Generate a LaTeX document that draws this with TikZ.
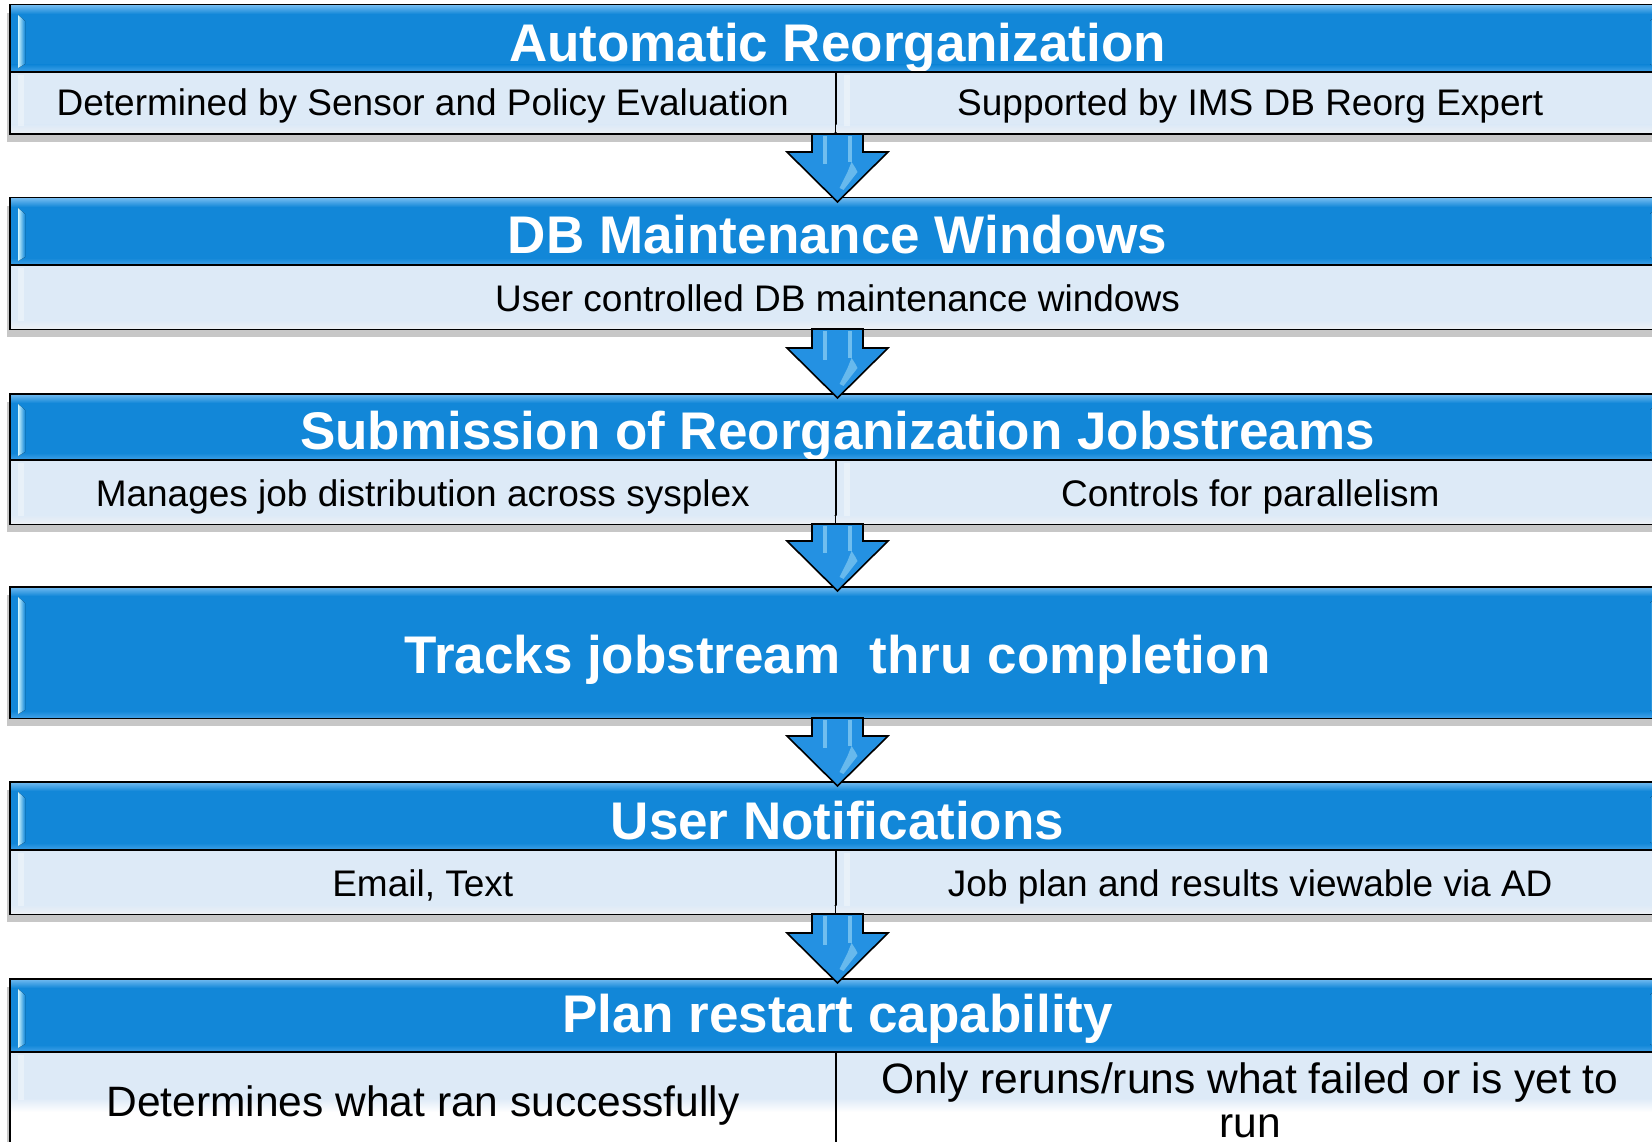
\documentclass[tikz,border=0pt]{standalone}
\usepackage{fontspec}
\setmainfont{Liberation Sans}
\usetikzlibrary{calc}

\definecolor{hdrblue}{RGB}{18,135,216}
\definecolor{hdrlight}{RGB}{105,182,238}
\definecolor{hdrlow}{RGB}{58,158,230}
\definecolor{rowblue}{RGB}{221,234,247}
\definecolor{rowlow}{RGB}{236,240,245}
\definecolor{arrowblue}{RGB}{36,145,226}
\definecolor{glint}{RGB}{205,245,255}

\tikzset{
  frame/.style={inner sep=0pt, outer sep=0pt, anchor=north west},
  header/.style={frame, fill=hdrblue, draw=black, line width=2pt},
  rowcellbox/.style={frame, fill=rowblue, draw=black, line width=2pt},
  shadowfill/.style={fill=black!40, opacity=0.55},
  title/.style={font=\fontsize{53}{60}\selectfont\bfseries, text=white, anchor=base, inner sep=0pt},
  caption/.style={font=\fontsize{37}{44}\selectfont, text=black, anchor=base, inner sep=0pt},
  bigcaption/.style={font=\fontsize{42.5}{44}\selectfont, text=black, anchor=base, inner sep=0pt},
  flowarrow/.style={draw=black, line width=1.6pt, fill=arrowblue, line join=miter},
}

% drop shadow and invisible frame spanning one stage
\newcommand\stagebase[3]{%
  \fill[shadowfill] (7,#2+8) rectangle (1662,#3+8);
  \pgfmathsetmacro\stageh{#3-#2}
  \node[frame, minimum width=1655pt, minimum height=\stageh pt] (#1) at (10,#2) {};
}

% blue title bar: name, top, bottom, baseline offset, title
\newcommand\headerbar[5]{%
  \pgfmathsetmacro\barh{#3-#2}
  \node[header, minimum width=1655pt, minimum height=\barh pt] (#1) at (10,#2) {};
  \fill[top color=hdrlight, bottom color=hdrblue] (11,#2+1) rectangle (1664,#2+9);
  \fill[top color=hdrblue, bottom color=hdrlow] (11,#3-7) rectangle (1664,#3-1);
  \fill[left color=glint, right color=hdrblue] (18,#2+10) -- (25,#2+16) -- (25,#3-8) -- (18,#3-4) -- cycle;
  \fill[left color=hdrblue, right color=glint] (1650,#2+16) -- (1657,#2+10) -- (1657,#3-4) -- (1650,#3-8) -- cycle;
  \node[title] (#1t) at ([yshift=#4pt]#1.south) {#5};
}

% light text cell: name, left x, width, top, bottom, baseline offset, text
\newcommand\rowcell[7]{%
  \pgfmathsetmacro\cellh{#5-#4}
  \node[rowcellbox, minimum width=#3pt, minimum height=\cellh pt] (#1) at (#2,#4) {};
  \fill[top color=rowblue, bottom color=rowlow] (#2+1,#5-9) rectangle (#2+#3-1,#5-1);
  \fill[white, opacity=0.35] (#2+8,#4+3) rectangle (#2+14,#5-8);
  \node[caption] (#1t) at ([yshift=#6pt]#1.south) {#7};
}

% block arrow between two stages
\newcommand\blockarrow[3]{%
  \coordinate (#1top) at (#2.south);
  \coordinate (#1tip) at ([yshift=-4pt]#3.north);
  \draw[flowarrow] ($(#1top)+(-25.5pt,0)$) -- ($(#1tip)+(-25.5pt,50pt)$) -- ($(#1tip)+(-50.5pt,50pt)$)
    -- (#1tip) -- ($(#1tip)+(50.5pt,50pt)$) -- ($(#1tip)+(25.5pt,50pt)$) -- ($(#1top)+(25.5pt,0)$) -- cycle;
  \fill[glint, opacity=0.45] ($(#1top)+(-15pt,-2pt)$) rectangle ($(#1tip)+(-11pt,38pt)$);
  \fill[glint, opacity=0.45] ($(#1top)+(10pt,-2pt)$) rectangle ($(#1tip)+(14pt,40pt)$);
  \fill[glint, opacity=0.4] ($(#1tip)+(14pt,40pt)$) .. controls ($(#1tip)+(18pt,34pt)$) .. ($(#1tip)+(20pt,30pt)$)
    -- ($(#1tip)+(6pt,12pt)$) -- ($(#1tip)+(2pt,14pt)$) -- ($(#1tip)+(10pt,30pt)$) -- cycle;
}

\begin{document}
\begin{tikzpicture}[x=1pt, y=-1pt]
  \useasboundingbox (0,0) rectangle (1652,1142);
  \fill[white] (0,0) rectangle (1652,1142);
  \clip (0,0) rectangle (1652,1142);

  % stage 1
  \stagebase{s1}{5}{134}
  \headerbar{s1h}{5}{72}{10}{Automatic Reorganization}
  \rowcell{s1a}{10}{825.5}{72}{134}{18}{Determined by Sensor and Policy Evaluation}
  \rowcell{s1b}{835.5}{829.5}{72}{134}{18}{Supported by IMS DB Reorg Expert}

  % stage 2
  \stagebase{s2}{198}{329}
  \headerbar{s2h}{198}{265}{11}{DB Maintenance Windows}
  \rowcell{s2a}{10}{1655}{265}{329}{18}{User controlled DB maintenance windows}

  % stage 3
  \stagebase{s3}{394}{524}
  \headerbar{s3h}{394}{460}{11}{Submission of Reorganization Jobstreams}
  \rowcell{s3a}{10}{825.5}{460}{524}{18}{Manages job distribution across sysplex}
  \rowcell{s3b}{835.5}{829.5}{460}{524}{18}{Controls for parallelism}

  % stage 4
  \stagebase{s4}{587}{718}
  \headerbar{s4h}{587}{718}{45}{Tracks jobstream~ thru completion}

  % stage 5
  \stagebase{s5}{782}{914}
  \headerbar{s5h}{782}{850}{11}{User Notifications}
  \rowcell{s5a}{10}{825.5}{850}{914}{18}{Email, Text}
  \rowcell{s5b}{835.5}{829.5}{850}{914}{18}{Job plan and results viewable via AD}

  % stage 6 (its text row runs past the lower edge)
  \stagebase{s6}{979}{1180}
  \headerbar{s6h}{979}{1052}{20}{Plan restart capability}
  \node[frame, fill=white, draw=black, line width=2pt, minimum width=825.5pt, minimum height=128pt] (s6a) at (10,1052) {};
  \node[frame, fill=white, draw=black, line width=2pt, minimum width=829.5pt, minimum height=128pt] (s6b) at (835.5,1052) {};
  \fill[rowblue] (11,1053) rectangle (834.5,1098);
  \fill[rowblue] (836.5,1053) rectangle (1664,1098);
  \fill[top color=rowblue, bottom color=white] (11,1098) rectangle (1664,1112);
  \fill[white, opacity=0.35] (18,1055) rectangle (24,1100);
  \draw[black, line width=2pt] (835.5,1052) -- (835.5,1180);
  \node[bigcaption] (s6at) at (423,1116) {Determines what ran successfully};
  \node[bigcaption] (s6bt) at (1250,1093) {Only reruns/runs what failed or is yet to};
  \node[bigcaption] (s6bt2) at (1250,1137) {run};

  % arrows between stages
  \blockarrow{a1}{s1}{s2}
  \blockarrow{a2}{s2}{s3}
  \blockarrow{a3}{s3}{s4}
  \blockarrow{a4}{s4}{s5}
  \blockarrow{a5}{s5}{s6}
\end{tikzpicture}
\end{document}
